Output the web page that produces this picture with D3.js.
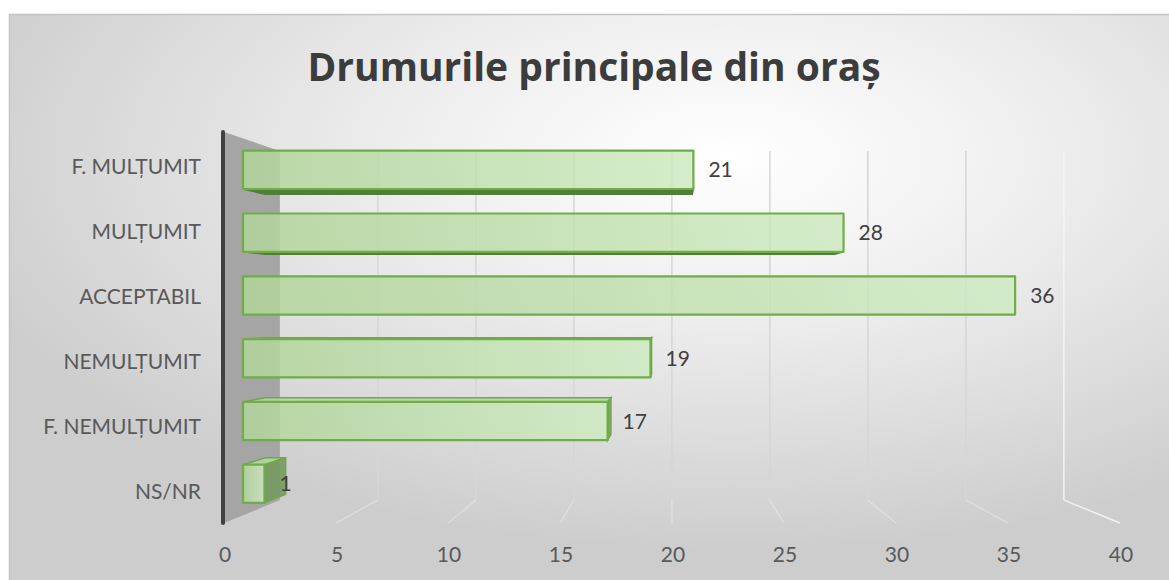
<!DOCTYPE html>
<html>
<head>
<meta charset="utf-8">
<script src="https://cdn.jsdelivr.net/npm/d3@7"></script>
<style>
    body { margin: 0; background: #fff; }
    svg { display: block; font-family: Lato, 'Open Sans', sans-serif; }
</style>
</head>
<body>
<div class="chart-container"></div>
<script>
// Data
const chartTitle = 'Drumurile principale din oraș';
const categories = ['F. MULȚUMIT', 'MULȚUMIT', 'ACCEPTABIL', 'NEMULȚUMIT', 'F. NEMULȚUMIT', 'NS/NR'];
const values = [21, 28, 36, 19, 17, 1];
const xTicks = [0, 5, 10, 15, 20, 25, 30, 35, 40];

const svgWidth = 1169;
const svgHeight = 580;

// Front plane of the 3D box (z = 0)
const plot = { left: 224, right: 1120, top: 132, bottom: 523 };

// Perspective: points shrink toward a vanishing point as depth grows
const vp = { x: 671, y: 309 };
const shrinkX = 0.125;
const shrinkY = 0.107;
const zFront = 0.34;
const zBack = 0.74;

function proj(x, y, z) {
    return [
        vp.x + (x - vp.x) * (1 - shrinkX * z),
        vp.y + (y - vp.y) * (1 - shrinkY * z)
    ];
}

function poly(points) {
    return d3.line()(points.map(p => proj(p[0], p[1], p[2]))) + 'Z';
}

// Scales
const xScale = d3.scaleLinear()
    .domain([0, 40])
    .range([plot.left, plot.right]);

const yScale = d3.scaleBand()
    .domain(categories)
    .range([plot.top, plot.bottom])
    .paddingInner(0.39)
    .paddingOuter(0.195);

const svg = d3.select('.chart-container')
    .append('svg')
    .attr('width', svgWidth)
    .attr('height', svgHeight);

// Gradients
const defs = svg.append('defs');

const bg = defs.append('radialGradient')
    .attr('id', 'bg')
    .attr('cx', '62%').attr('cy', '25%').attr('r', '70%');
bg.append('stop').attr('offset', '0%').attr('stop-color', '#ffffff');
bg.append('stop').attr('offset', '40%').attr('stop-color', '#eeeeee');
bg.append('stop').attr('offset', '100%').attr('stop-color', '#cdcdcd');

const barGrad = defs.append('linearGradient')
    .attr('id', 'barFront')
    .attr('x1', '0%').attr('x2', '100%').attr('y1', '0%').attr('y2', '0%');
barGrad.append('stop').attr('offset', '0%').attr('stop-color', '#b2d59b');
barGrad.append('stop').attr('offset', '100%').attr('stop-color', '#cfeac2');

// Chart area
svg.append('rect')
    .attr('x', 9).attr('y', 14)
    .attr('width', svgWidth - 9).attr('height', svgHeight - 14)
    .attr('fill', 'url(#bg)');
svg.append('path')
    .attr('d', `M9.5,${svgHeight}V14.5H${svgWidth}`)
    .attr('fill', 'none')
    .attr('stroke', '#c4c4c4')
    .attr('stroke-width', 1.5);

// Title
svg.append('text')
    .attr('x', 594)
    .attr('y', 81)
    .attr('text-anchor', 'middle')
    .attr('font-family', "'Open Sans', Lato, sans-serif")
    .attr('font-size', 39)
    .attr('font-weight', 'bold')
    .attr('fill', '#3c3c3c')
    .text(chartTitle);

// Back wall gridlines and floor lines
const grid = svg.append('g');
xTicks.filter(t => t > 0).forEach(t => {
    const x = xScale(t);
    const top = proj(x, plot.top, 1);
    const bot = proj(x, plot.bottom, 1);
    const front = proj(x, plot.bottom, 0);
    grid.append('line')
        .attr('x1', top[0]).attr('y1', top[1])
        .attr('x2', bot[0]).attr('y2', bot[1])
        .attr('stroke', t === 40 ? '#f4f4f4' : '#d6d6d6')
        .attr('stroke-width', 1.5);
    grid.append('line')
        .attr('x1', bot[0]).attr('y1', bot[1])
        .attr('x2', front[0]).attr('y2', front[1])
        .attr('stroke', '#f2f2f2')
        .attr('stroke-width', 1.5)
        .attr('opacity', t === 40 ? 1 : 0.4);
});

// Side wall
const x0 = xScale(0);
svg.append('path')
    .attr('d', poly([[x0, plot.top, 0], [x0, plot.top, 1], [x0, plot.bottom, 1], [x0, plot.bottom, 0]]))
    .attr('fill', '#a5a5a5');
svg.append('line')
    .attr('x1', x0 - 1).attr('y1', plot.top)
    .attr('x2', x0 - 1).attr('y2', plot.bottom)
    .attr('stroke', '#404040')
    .attr('stroke-width', 4)
    .attr('stroke-linecap', 'round');

// Bars
const barData = categories.map((c, i) => ({ name: c, value: values[i] }));

const bars = svg.selectAll('.bar')
    .data(barData)
    .enter()
    .append('g')
    .attr('class', 'bar');

bars.each(function(d) {
    const g = d3.select(this);
    const xa = xScale(0);
    const xb = xScale(d.value);
    const yt = yScale(d.name);
    const yb = yt + yScale.bandwidth();

    if (yt > vp.y) {
        g.append('path')
            .attr('d', poly([[xa, yt, zFront], [xb, yt, zFront], [xb, yt, zBack], [xa, yt, zBack]]))
            .attr('fill', '#b3d89b')
            .attr('fill-opacity', 0.85)
            .attr('stroke', '#6fa84b')
            .attr('stroke-width', 1.5);
    }
    if (yb < vp.y) {
        g.append('path')
            .attr('d', poly([[xa, yb, zFront], [xb, yb, zFront], [xb, yb, zBack], [xa, yb, zBack]]))
            .attr('fill', '#527f38')
            .attr('stroke', '#527f38')
            .attr('stroke-width', 1.5);
    }
    if (xb < vp.x) {
        g.append('path')
            .attr('d', poly([[xb, yt, zFront], [xb, yt, zBack], [xb, yb, zBack], [xb, yb, zFront]]))
            .attr('fill', '#759a5e')
            .attr('fill-opacity', 0.9)
            .attr('stroke', '#6fa84b')
            .attr('stroke-width', 1.5);
    }
    g.append('path')
        .attr('d', poly([[xa, yt, zFront], [xb, yt, zFront], [xb, yb, zFront], [xa, yb, zFront]]))
        .attr('fill', 'url(#barFront)')
        .attr('fill-opacity', 0.85)
        .attr('stroke', '#70ad47')
        .attr('stroke-width', 2.2)
        .attr('stroke-linejoin', 'round');

    const end = proj(xb, (yt + yb) / 2, zFront);
    g.append('text')
        .attr('x', end[0] + 15)
        .attr('y', end[1] + 7.5)
        .attr('font-size', 21)
        .attr('fill', '#404040')
        .text(d.value);
});

// Category labels
svg.append('g')
    .selectAll('text')
    .data(categories)
    .enter()
    .append('text')
    .attr('x', 201)
    .attr('y', d => yScale(d) + yScale.bandwidth() / 2 + 9)
    .attr('text-anchor', 'end')
    .attr('font-size', 21)
    .attr('fill', '#595959')
    .text(d => d);

// Value axis labels
svg.append('g')
    .selectAll('text')
    .data(xTicks)
    .enter()
    .append('text')
    .attr('x', d => xScale(d) + 1)
    .attr('y', 562)
    .attr('text-anchor', 'middle')
    .attr('font-size', 21)
    .attr('fill', '#595959')
    .text(d => d);
</script>
</body>
</html>
